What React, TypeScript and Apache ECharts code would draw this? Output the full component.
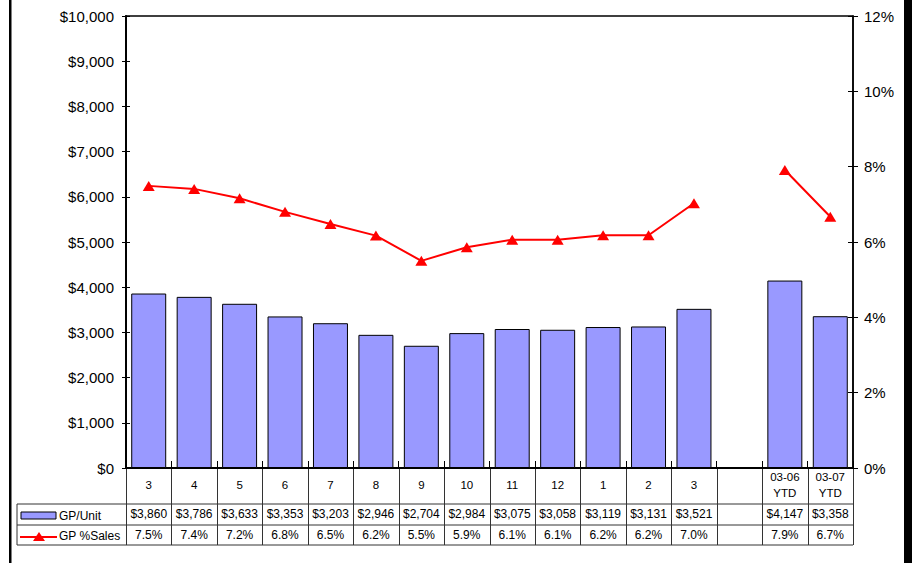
import React, { useEffect, useRef } from "react";
import * as echarts from "echarts";

const categories = ["3", "4", "5", "6", "7", "8", "9", "10", "11", "12", "1", "2", "3", "", "03-06\nYTD", "03-07\nYTD"];
const gpUnit: (number | null)[] = [3860, 3786, 3633, 3353, 3203, 2946, 2704, 2984, 3075, 3058, 3119, 3131, 3521, null, 4147, 3358];
const gpPctSales: (number | null)[] = [7.49, 7.41, 7.16, 6.8, 6.48, 6.17, 5.5, 5.86, 6.06, 6.06, 6.18, 6.18, 7.03, null, 7.91, 6.67];
const leftTicks = { min: 0, max: 10000, interval: 1000 };
const rightTicks = { min: 0, max: 12, interval: 2 };

const FONT = "'Liberation Sans', Arial, sans-serif";
const W = 915;
const H = 563;
const GL = 126, GR = 853, GT = 16, GB = 468;
const TABLE_LEFT = 17;
const ROW1 = 504, ROW2 = 525, ROW3 = 545;

const fmtUnit = (v: number | null) => (v == null ? "" : "$" + v.toLocaleString("en-US"));
const fmtPct = (v: number | null) => (v == null ? "" : v.toFixed(1) + "%");

export default function App() {
  const ref = useRef<HTMLDivElement>(null);
  useEffect(() => {
    if (!ref.current) return;
    const chart = echarts.init(ref.current, null, { renderer: "svg" });
    const n = categories.length;
    const slot = (GR - GL) / n;
    const lineStyle = { stroke: "#333", lineWidth: 1 };
    const graphics: any[] = [];
    graphics.push({ type: "rect", shape: { x: 9, y: 0, width: 2.5, height: H }, style: { fill: "#000" } });
    graphics.push({ type: "rect", shape: { x: 904, y: 0, width: 8, height: H }, style: { fill: "#000" } });
    graphics.push({ type: "line", shape: { x1: TABLE_LEFT, y1: ROW1, x2: GR, y2: ROW1 }, style: lineStyle });
    graphics.push({ type: "line", shape: { x1: TABLE_LEFT, y1: ROW2, x2: GR, y2: ROW2 }, style: lineStyle });
    graphics.push({ type: "line", shape: { x1: TABLE_LEFT, y1: ROW3, x2: GR, y2: ROW3 }, style: lineStyle });
    graphics.push({ type: "line", shape: { x1: TABLE_LEFT, y1: ROW1, x2: TABLE_LEFT, y2: ROW3 }, style: lineStyle });
    for (let i = 0; i <= n; i++) {
      const x = Math.round(GL + i * slot) + 0.5;
      graphics.push({ type: "line", shape: { x1: x, y1: GB, x2: x, y2: ROW3 }, style: lineStyle });
    }
    graphics.push({ type: "rect", shape: { x: 21, y: 512, width: 35, height: 7 }, style: { fill: "#9999FF", stroke: "#000", lineWidth: 1 } });
    graphics.push({ type: "text", x: 59, y: 515.5, style: { text: "GP/Unit", font: `12px ${FONT}`, fill: "#000", verticalAlign: "middle" } });
    graphics.push({ type: "line", shape: { x1: 20, y1: 537, x2: 57, y2: 537 }, style: { stroke: "#FF0000", lineWidth: 2 } });
    graphics.push({ type: "polygon", shape: { points: [[39, 532], [33, 541], [45, 541]] }, style: { fill: "#FF0000" } });
    graphics.push({ type: "text", x: 59, y: 536, style: { text: "GP %Sales", font: `12px ${FONT}`, fill: "#000", verticalAlign: "middle" } });

    const labelBase = { fontFamily: FONT, fontSize: 12, color: "#000" };
    const tableAxis = (offset: number, fmt: (i: number) => string) => ({
      type: "category",
      data: categories,
      position: "bottom",
      offset,
      axisLine: { show: false },
      axisTick: { show: false },
      splitLine: { show: false },
      axisLabel: {
        ...labelBase,
        interval: 0,
        margin: 0,
        verticalAlign: "middle",
        hideOverlap: false,
        formatter: (_v: string, i: number) => fmt(i),
      },
    });

    chart.setOption({
      animation: false,
      backgroundColor: "#fff",
      grid: { left: GL, right: W - GR, top: GT, bottom: H - GB, show: true, borderColor: "#000", borderWidth: 1.5, backgroundColor: "#fff" },
      graphic: graphics,
      xAxis: [
        {
          type: "category",
          data: categories,
          position: "bottom",
          axisLine: { show: true, lineStyle: { color: "#000", width: 2 } },
          axisTick: { show: true, inside: true, length: 7, lineStyle: { color: "#000", width: 1 } },
          axisLabel: { ...labelBase, fontSize: 11.5, lineHeight: 16, interval: 0, margin: 17, verticalAlign: "middle", hideOverlap: false },
          splitLine: { show: false },
        },
        tableAxis(ROW1 - GB + (ROW2 - ROW1) / 2 - 0.5, (i) => fmtUnit(gpUnit[i])),
        tableAxis(ROW2 - GB + (ROW3 - ROW2) / 2, (i) => fmtPct(gpPctSales[i])),
      ],
      yAxis: [
        {
          type: "value",
          position: "left",
          ...leftTicks,
          axisLine: { show: true, lineStyle: { color: "#000", width: 2 } },
          axisTick: { show: true, length: 4, lineStyle: { color: "#000" } },
          axisLabel: { fontFamily: FONT, fontSize: 15, color: "#000", margin: 12, formatter: (v: number) => "$" + v.toLocaleString("en-US") },
          splitLine: { show: false },
        },
        {
          type: "value",
          position: "right",
          ...rightTicks,
          axisLine: { show: true, lineStyle: { color: "#000", width: 1.5 } },
          axisTick: { show: true, length: 5, lineStyle: { color: "#000" } },
          axisLabel: { fontFamily: FONT, fontSize: 15, color: "#000", margin: 11, formatter: (v: number) => v + "%" },
          splitLine: { show: false },
        },
        {
          type: "value",
          position: "left",
          ...leftTicks,
          axisLine: { show: false },
          axisTick: { show: true, inside: true, length: 4, lineStyle: { color: "#000" } },
          axisLabel: { show: false },
          splitLine: { show: false },
        },
        {
          type: "value",
          position: "right",
          ...rightTicks,
          axisLine: { show: false },
          axisTick: { show: true, inside: true, length: 5, lineStyle: { color: "#000" } },
          axisLabel: { show: false },
          splitLine: { show: false },
        },
      ],
      series: [
        {
          name: "GP/Unit",
          type: "bar",
          xAxisIndex: 0,
          yAxisIndex: 0,
          data: gpUnit,
          barCategoryGap: "23%",
          itemStyle: { color: "#9999FF", borderColor: "#000", borderWidth: 1 },
        },
        {
          name: "GP %Sales",
          type: "line",
          xAxisIndex: 0,
          yAxisIndex: 1,
          data: gpPctSales,
          connectNulls: false,
          symbol: "triangle",
          symbolSize: [12, 10],
          lineStyle: { color: "#FF0000", width: 2 },
          itemStyle: { color: "#FF0000" },
        },
      ],
    });
    return () => chart.dispose();
  }, []);
  return <div ref={ref} style={{ position: "fixed", left: 0, top: 0, width: W, height: H }} />;
}
